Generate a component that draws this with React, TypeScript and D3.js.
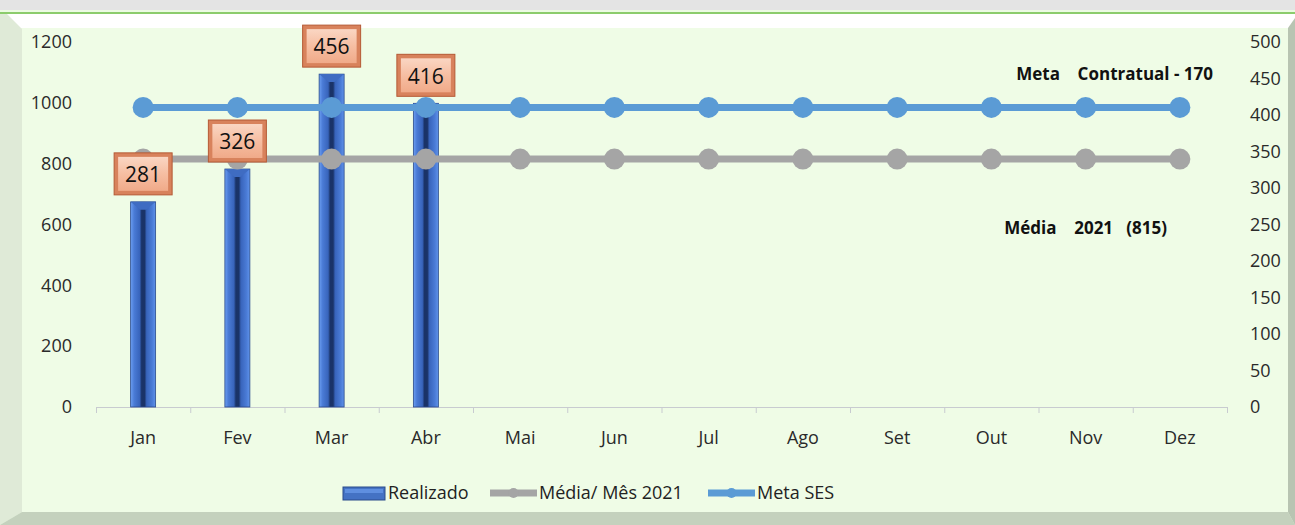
import * as d3 from "d3";
import { useEffect, useRef } from "react";

const months = ["Jan", "Fev", "Mar", "Abr", "Mai", "Jun", "Jul", "Ago", "Set", "Out", "Nov", "Dez"];
const realizado = [281, 326, 456, 416];
const mediaMes = [815, 815, 815, 815, 815, 815, 815, 815, 815, 815, 815, 815];
const metaSes = [985, 985, 985, 985, 985, 985, 985, 985, 985, 985, 985, 985];
const leftTicks = [0, 200, 400, 600, 800, 1000, 1200];
const rightTicks = [0, 50, 100, 150, 200, 250, 300, 350, 400, 450, 500];

export default function App() {
  const svgRef = useRef(null);

  useEffect(() => {
    document.body.style.margin = "0";
    const W = 1295;
    const H = 525;
    const svg = d3.select(svgRef.current).attr("width", W).attr("height", H);
    svg.selectAll("*").remove();
    const font = "'Open Sans', 'Noto Sans', sans-serif";

    const defs = svg.append("defs");
    const bg = defs.append("linearGradient").attr("id", "barg").attr("x1", 0).attr("x2", 1).attr("y1", 0).attr("y2", 0);
    [
      [0, "#6d9ff2"], [0.14, "#4a7bd6"], [0.36, "#3864bb"], [0.44, "#1a3368"],
      [0.56, "#1a3368"], [0.64, "#3864bb"], [0.86, "#4a7bd6"], [1, "#6093ea"],
    ].forEach(([o, c]) => bg.append("stop").attr("offset", o as number).attr("stop-color", c as string));
    const lg = defs.append("linearGradient").attr("id", "lblg").attr("x1", 0).attr("x2", 0).attr("y1", 0).attr("y2", 1);
    [[0, "#fad6c3"], [0.5, "#f6bea2"], [1, "#f0aa89"]].forEach(([o, c]) =>
      lg.append("stop").attr("offset", o as number).attr("stop-color", c as string));

    // frame
    svg.append("rect").attr("x", 0).attr("y", 0).attr("width", W).attr("height", H).attr("fill", "#ecfbe3");
    svg.append("rect").attr("x", 0).attr("y", 0).attr("width", W).attr("height", 10).attr("fill", "#e4e4e4");
    svg.append("rect").attr("x", 0).attr("y", 12).attr("width", W).attr("height", 2).attr("fill", "#8ccc6c");
    svg.append("rect").attr("x", 0).attr("y", 14).attr("width", W).attr("height", 14).attr("fill", "#ffffff");
    svg.append("path").attr("d", "M0,14 L7,14 L22,29 L22,512 L0,525 Z").attr("fill", "#dfead7");
    svg.append("path").attr("d", "M0,525 L22,512 L1288,512 L1295,525 Z").attr("fill", "#c4d1bd");
    svg.append("path").attr("d", "M1288,28 L1295,18 L1295,525 L1288,512 Z").attr("fill", "#b8c4b2");
    svg.append("rect").attr("x", 22).attr("y", 28).attr("width", 1266).attr("height", 484).attr("fill", "#effce6");

    const x = d3.scaleBand().domain(months).range([96, 1227]);
    const yL = d3.scaleLinear().domain([0, 1200]).range([407, 42]);
    const yR = d3.scaleLinear().domain([0, 500]).range([407, 42]);

    // axes labels
    svg.append("g").selectAll("text").data(leftTicks).join("text")
      .attr("x", 72).attr("y", (d) => yL(d)).attr("dy", "0.35em")
      .attr("text-anchor", "end").attr("font-family", font).attr("font-size", 18).attr("fill", "#2a2a2a")
      .text((d) => d);
    svg.append("g").selectAll("text").data(rightTicks).join("text")
      .attr("x", 1250).attr("y", (d) => yR(d)).attr("dy", "0.35em")
      .attr("text-anchor", "start").attr("font-family", font).attr("font-size", 18).attr("fill", "#2a2a2a")
      .text((d) => d);

    // x axis
    const xa = svg.append("g");
    xa.append("line").attr("x1", 96).attr("x2", 1227).attr("y1", 407.5).attr("y2", 407.5).attr("stroke", "#c8cbd0");
    const bounds = months.map((m) => x(m) as number).concat([1227]);
    xa.selectAll("line.t").data(bounds).join("line").attr("class", "t")
      .attr("x1", (d) => d + 0.5).attr("x2", (d) => d + 0.5).attr("y1", 407).attr("y2", 413).attr("stroke", "#c8cbd0");
    xa.selectAll("text").data(months).join("text")
      .attr("x", (d) => (x(d) as number) + x.bandwidth() / 2).attr("y", 438).attr("dy", "0.35em")
      .attr("text-anchor", "middle").attr("font-family", font).attr("font-size", 18).attr("fill", "#2a2a2a")
      .text((d) => d);

    // bars
    const bw = 25;
    const bars = svg.append("g");
    realizado.forEach((v, i) => {
      const cx = (x(months[i]) as number) + x.bandwidth() / 2;
      const top = yR(v);
      bars.append("rect").attr("x", cx - bw / 2).attr("y", top).attr("width", bw).attr("height", 407 - top)
        .attr("fill", "url(#barg)").attr("stroke", "#2a4a8a").attr("stroke-width", 0.8);
      bars.append("path")
        .attr("d", `M${cx - bw / 2},${top} L${cx + bw / 2},${top} L${cx + 3},${top + 8} L${cx - 3},${top + 8} Z`)
        .attr("fill", "#3f6cc2");
    });

    // lines
    const line = d3.line<number>().x((_, i) => (x(months[i]) as number) + x.bandwidth() / 2).y((d) => yL(d));
    const series = [
      { data: mediaMes, color: "#a5a5a5" },
      { data: metaSes, color: "#5b9bd5" },
    ];
    series.forEach((s) => {
      svg.append("path").datum(s.data).attr("d", line).attr("fill", "none")
        .attr("stroke", s.color).attr("stroke-width", 7);
      svg.append("g").selectAll("circle").data(s.data).join("circle")
        .attr("cx", (_, i) => (x(months[i]) as number) + x.bandwidth() / 2).attr("cy", (d) => yL(d))
        .attr("r", 10.5).attr("fill", s.color);
    });

    // data labels
    realizado.forEach((v, i) => {
      const cx = (x(months[i]) as number) + x.bandwidth() / 2;
      const top = yR(v);
      const g = svg.append("g").attr("transform", `translate(${cx - 29},${top - 49})`);
      g.append("rect").attr("width", 58).attr("height", 42).attr("fill", "#d8825c").attr("stroke", "#b55a35");
      g.append("rect").attr("x", 4).attr("y", 4).attr("width", 50).attr("height", 34).attr("fill", "url(#lblg)");
      g.append("text").attr("x", 29).attr("y", 22).attr("dy", "0.35em").attr("text-anchor", "middle")
        .attr("font-family", font).attr("font-size", 21).attr("fill", "#111").text(v);
    });

    // annotations
    svg.append("text").attr("x", 1213).attr("y", 74).attr("dy", "0.35em").attr("text-anchor", "end")
      .attr("font-family", font).attr("font-size", 17).attr("font-weight", "bold").attr("fill", "#111")
      .attr("xml:space", "preserve").text("Meta    Contratual - 170");
    svg.append("text").attr("x", 1167).attr("y", 228).attr("dy", "0.35em").attr("text-anchor", "end")
      .attr("font-family", font).attr("font-size", 17).attr("font-weight", "bold").attr("fill", "#111")
      .attr("xml:space", "preserve").text("Média    2021   (815)");

    // legend
    const lgd = svg.append("g");
    const ly = 493;
    lgd.append("rect").attr("x", 343).attr("y", ly - 6).attr("width", 42).attr("height", 13)
      .attr("fill", "#4472c4").attr("stroke", "#2a4a8a").attr("stroke-width", 1);
    lgd.append("rect").attr("x", 345).attr("y", ly - 4).attr("width", 38).attr("height", 4).attr("fill", "#5f8fe0");
    const items = [
      { x1: 490, x2: 537, color: "#a5a5a5", label: "Média/ Mês 2021" },
      { x1: 708, x2: 755, color: "#5b9bd5", label: "Meta SES" },
    ];
    items.forEach((it) => {
      lgd.append("line").attr("x1", it.x1).attr("x2", it.x2).attr("y1", ly).attr("y2", ly)
        .attr("stroke", it.color).attr("stroke-width", 7);
      lgd.append("circle").attr("cx", (it.x1 + it.x2) / 2).attr("cy", ly).attr("r", 5).attr("fill", it.color);
      lgd.append("text").attr("x", it.x2 + 2).attr("y", ly).attr("dy", "0.35em").attr("font-family", font)
        .attr("font-size", 18).attr("fill", "#222").text(it.label);
    });
    lgd.append("text").attr("x", 388).attr("y", ly).attr("dy", "0.35em").attr("font-family", font)
      .attr("font-size", 18).attr("fill", "#222").text("Realizado");
  }, []);

  return <svg ref={svgRef} style={{ display: "block" }}></svg>;
}
